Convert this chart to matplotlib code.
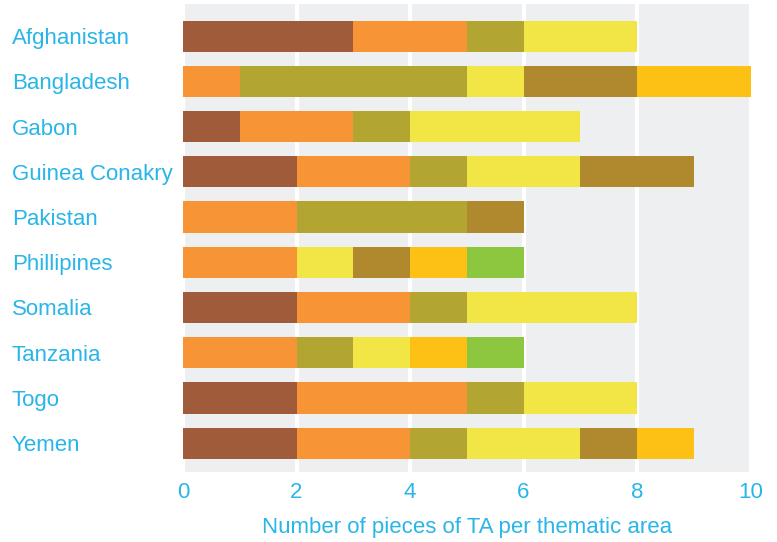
import matplotlib
matplotlib.use("Agg")
import matplotlib.pyplot as plt
import numpy as np

countries = ["Afghanistan", "Bangladesh", "Gabon", "Guinea Conakry", "Pakistan",
             "Phillipines", "Somalia", "Tanzania", "Togo", "Yemen"]
area1 = [3, 0, 1, 2, 0, 0, 2, 0, 2, 2]
area2 = [2, 1, 2, 2, 2, 2, 2, 2, 3, 2]
area3 = [1, 4, 1, 1, 3, 0, 1, 1, 1, 1]
area4 = [2, 1, 3, 2, 0, 1, 3, 1, 2, 2]
area5 = [0, 2, 0, 2, 1, 1, 0, 0, 0, 1]
area6 = [0, 2, 0, 0, 0, 1, 0, 1, 0, 1]
area7 = [0, 0, 0, 0, 0, 1, 0, 1, 0, 0]
series = [area1, area2, area3, area4, area5, area6, area7]
colors = ["#A05B3A", "#F79435", "#B2A532", "#F2E546", "#B0892E", "#FDC116", "#8DC63F"]
xticks = [0, 2, 4, 6, 8, 10]
xlabel = "Number of pieces of TA per thematic area"

txt = "#29B5E8"
fs = 16
plt.rcParams['font.family'] = ['Liberation Sans', 'DejaVu Sans']

fig = plt.figure(figsize=(7.77, 5.42), dpi=100)
ax = fig.add_axes([0.2355, 0.129, 0.966 - 0.2355, 0.9926 - 0.129])
ax.set_facecolor("#EEEFF1")
y = np.arange(len(countries))
left = np.zeros(len(countries))
for vals, c in zip(series, colors):
    ax.barh(y, vals, left=left, height=0.69, color=c, zorder=3, linewidth=0)
    left += np.array(vals)

ax.set_xlim(0, 10)
ax.set_ylim(len(countries) - 1 + 0.64, -0.71)
ax.set_xticks(xticks)
ax.set_xticklabels([str(t) for t in xticks])
ax.set_yticks(y)
ax.set_yticklabels(countries, ha="left")
ax.tick_params(axis="y", length=0, pad=171 * 0.72, labelsize=fs, labelcolor=txt)
ax.tick_params(axis="x", length=0, pad=7, labelsize=fs, labelcolor=txt)
ax.xaxis.grid(True, color="white", linewidth=3, zorder=1)
ax.set_axisbelow(True)
for s in ax.spines.values():
    s.set_visible(False)
ax.set_xlabel(xlabel, fontsize=fs, color=txt, labelpad=10)

fig.savefig("out.png", dpi=100)
